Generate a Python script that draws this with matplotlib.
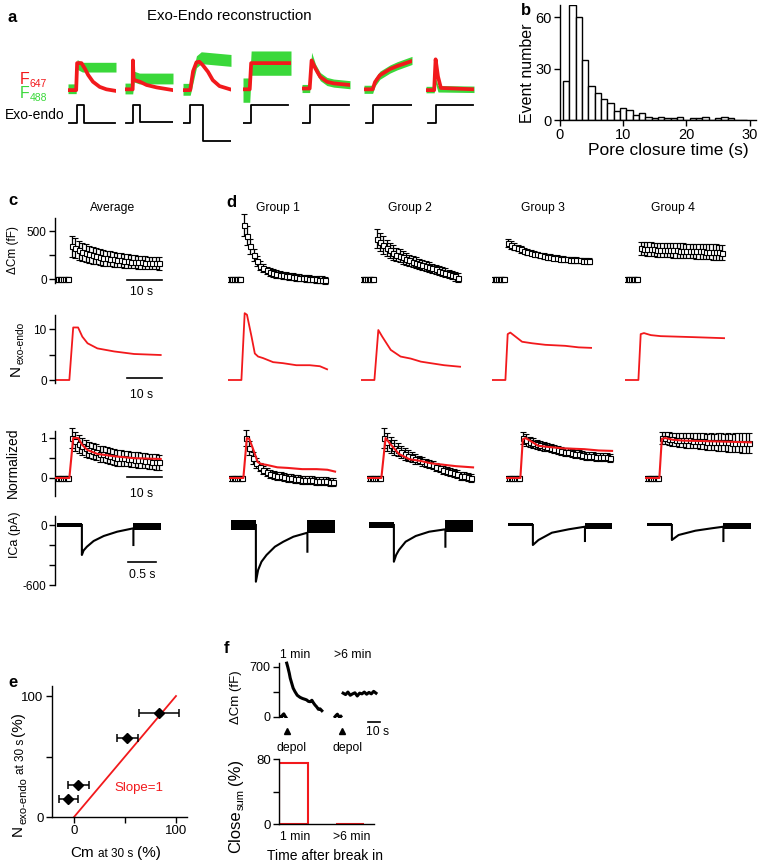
import numpy as np
import matplotlib
matplotlib.use("Agg")
import matplotlib.pyplot as plt

plt.rcParams['font.family'] = ['Liberation Sans', 'DejaVu Sans']
plt.rcParams['axes.linewidth'] = 1.0

RED = '#f2191c'
GREEN = '#3ad83a'

# ---------------- a: example traces (time 0-1, amplitude 0-1 per trace)
a_red_t = [
    [0, 0.17, 0.19, 0.28, 0.35, 0.42, 0.52, 0.66, 0.80, 1.0],
    [0, 0.16, 0.165, 0.18, 0.22, 0.31, 0.45, 0.66, 1.0],
    [0, 0.15, 0.21, 0.28, 0.34, 0.41, 0.52, 0.62, 0.76, 1.0],
    [0, 0.14, 0.17, 1.0],
    [0, 0.16, 0.20, 0.28, 0.38, 0.52, 0.66, 1.0],
    [0, 0.18, 0.23, 0.33, 0.54, 0.69, 1.0],
    [0, 0.17, 0.20, 0.25, 0.31, 1.0],
]
a_red_v = [
    [0, 0, 1.0, 1.0, 0.8, 0.56, 0.31, 0.12, 0.03, -0.03],
    [0.03, 0.03, 1.1, 0.4, 0.36, 0.31, 0.19, 0.10, 0.0],
    [0, 0, 0.7, 1.03, 1.05, 0.93, 0.68, 0.37, 0.15, 0.02],
    [0.03, 0.03, 1.0, 1.0],
    [0.06, 0.06, 1.1, 0.8, 0.49, 0.31, 0.25, 0.19],
    [0.03, 0.03, 0.3, 0.55, 0.78, 0.89, 1.08],
    [0, 0, 1.14, 0.5, 0.08, 0.03],
]
a_green_t = [
    [0, 0.17, 0.19, 0.30, 1.0],
    [0, 0.16, 0.19, 0.30, 1.0],
    [0, 0.15, 0.28, 0.38, 1.0],
    [0, 0.14, 0.17, 1.0],
    [0, 0.16, 0.20, 0.28, 0.38, 0.52, 0.66, 1.0],
    [0, 0.18, 0.23, 0.33, 0.54, 0.69, 1.0],
    [0, 0.17, 0.20, 0.25, 1.0],
]
a_green_v = [
    [0.05, 0.05, 0.95, 0.85, 0.85],
    [0.06, 0.06, 0.5, 0.43, 0.43],
    [0.03, 0.03, 1.05, 1.2, 1.1],
    [0, 0, 1.0, 1.0],
    [0.06, 0.06, 1.25, 0.82, 0.5, 0.32, 0.26, 0.2],
    [0.03, 0.03, 0.3, 0.55, 0.78, 0.9, 1.1],
    [0.02, 0.02, 0.35, 0.05, 0.03],
]
a_green_noise = [0.18, 0.2, 0.22, 0.45, 0.15, 0.15, 0.12]
a_step_t = [
    [0.02, 0.19, 0.19, 0.33, 0.33, 0.98],
    [0.02, 0.16, 0.16, 0.31, 0.31, 1.0],
    [0.01, 0.15, 0.15, 0.41, 0.41, 1.0],
    [0.01, 0.17, 0.17, 0.94],
    [0.01, 0.16, 0.16, 0.98],
    [0.04, 0.18, 0.18, 1.0],
    [0.04, 0.21, 0.21, 0.98],
]
a_step_v = [
    [0, 0, 1, 1, 0, 0],
    [0, 0, 1, 1, 0.05, 0.05],
    [0, 0, 1, 1, -1, -1],
    [0, 0, 1, 1],
    [0, 0, 1, 1],
    [0, 0, 1, 1],
    [0, 0, 1, 1],
]

# ---------------- b: histogram of pore closure time
b_time = [1, 2, 3, 4, 5, 6, 7, 8, 9, 10, 11, 12, 13, 14, 15,
          16, 17, 18, 19, 20, 21, 22, 23, 24, 25, 26, 27, 28, 29]
b_count = [23, 67, 60, 35, 20, 16, 12, 10, 5, 7, 6, 3, 4, 2, 1,
           2, 1, 1, 2, 0, 1, 1, 2, 0, 1, 2, 1, 0, 0]

# ---------------- c/d: average and groups
col_names = ['Average', 'Group 1', 'Group 2', 'Group 3', 'Group 4']
cm_t = [0.5, 1.5, 2.5, 3.5, 4.5, 5.5, 6.5, 7.5, 8.5, 9.5, 10.5, 11.5, 12.5,
        13.5, 14.5, 15.5, 16.5, 17.5, 18.5, 19.5, 20.5, 21.5, 22.5, 23.5, 24.5, 25.5]
base_t = [-4.0, -3.5, -3.0, -2.5, -2.0, -1.5, -1.0, -0.5]
base_cm = [0, 4, -3, 2, -4, 3, -1, 2]
base_cm_err = [14, 12, 15, 13, 12, 14, 13, 15]
base_norm = [0, 0.01, -0.01, 0.0, 0.01, -0.01, 0.0, 0.01]
base_norm_err = [0.03, 0.03, 0.03, 0.03, 0.03, 0.03, 0.03, 0.03]

cm_avg = [340, 320, 300, 285, 270, 258, 248, 238, 230, 222, 215, 210, 205,
          200, 195, 190, 186, 182, 178, 175, 172, 170, 168, 166, 164, 162]
cm_avg_err = [110, 105, 100, 95, 92, 90, 88, 86, 84, 82, 80, 78, 76,
              74, 72, 72, 70, 70, 68, 68, 66, 66, 65, 65, 64, 64]
cm_g1 = [560, 450, 340, 250, 185, 140, 110, 90, 75, 62, 52, 45, 38,
         32, 27, 22, 18, 14, 10, 6, 3, 0, -3, -6, -9, -12]
cm_g1_err = [115, 100, 80, 60, 50, 45, 42, 40, 40, 38, 38, 38, 37,
             37, 36, 36, 36, 36, 36, 36, 36, 36, 36, 36, 36, 36]
cm_g2 = [420, 385, 355, 325, 300, 275, 255, 240, 225, 210, 195, 182, 170,
         158, 146, 134, 122, 110, 100, 88, 76, 64, 52, 40, 28, 15]
cm_g2_err = [100, 95, 90, 85, 80, 75, 70, 68, 65, 62, 60, 58, 56,
             55, 54, 53, 52, 50, 50, 48, 48, 46, 46, 45, 45, 45]
cm_g3 = [372, 355, 338, 322, 308, 296, 285, 275, 265, 256, 248, 240, 234,
         228, 222, 217, 213, 209, 205, 202, 199, 196, 194, 192, 190, 188]
cm_g3_err = [40, 38, 36, 34, 32, 30, 30, 30, 28, 28, 28, 28, 28,
             28, 28, 28, 28, 28, 28, 28, 28, 28, 28, 28, 28, 28]
cm_g4 = [320, 315, 312, 310, 308, 306, 305, 303, 302, 300, 298, 297, 296,
         295, 293, 292, 290, 289, 288, 287, 285, 284, 282, 280, 278, 276]
cm_g4_err = [70, 70, 72, 72, 72, 72, 74, 74, 74, 74, 75, 75, 75,
             75, 76, 76, 76, 76, 78, 78, 78, 78, 80, 80, 80, 80]

n_t_avg = [-4.3, -0.2, 0.9, 2.3, 3.5, 5.0, 7.8, 12.6, 18.3, 25.9]
n_avg = [0, 0, 10.3, 10.3, 8.5, 7.2, 6.2, 5.6, 5.1, 4.9]
n_t_g1 = [-4.3, -0.2, 0.8, 1.5, 2.9, 3.9, 4.9, 6.4, 9.5, 12.5, 16.6, 20.7, 23.8, 26.0]
n_g1 = [0, 0, 13.1, 12.8, 8.5, 5.2, 4.6, 4.3, 3.5, 3.3, 2.9, 2.9, 2.7, 2.1]
n_t_g2 = [-4.3, -0.2, 1.0, 2.2, 4.8, 7.8, 10.9, 14.0, 17.0, 21.1, 26.0]
n_g2 = [0, 0, 9.8, 8.5, 5.9, 4.6, 4.2, 3.6, 3.3, 2.9, 2.6]
n_t_g3 = [-4.3, -0.2, 0.5, 1.3, 2.9, 4.9, 8.0, 12.0, 18.1, 22.2, 26.0]
n_g3 = [0, 0, 9.0, 9.3, 8.5, 7.5, 7.2, 6.9, 6.7, 6.4, 6.3]
n_t_g4 = [-4.3, -0.2, 0.5, 1.5, 3.6, 6.6, 11.7, 16.8, 26.0]
n_g4 = [0, 0, 9.0, 9.2, 8.8, 8.6, 8.5, 8.4, 8.2]

norm_avg = [1.0, 0.92, 0.85, 0.79, 0.74, 0.70, 0.67, 0.64, 0.61, 0.59, 0.57, 0.55, 0.53,
            0.51, 0.50, 0.49, 0.48, 0.47, 0.46, 0.45, 0.44, 0.43, 0.42, 0.41, 0.40, 0.39]
norm_avg_err = [0.25, 0.24, 0.23, 0.22, 0.21, 0.21, 0.2, 0.2, 0.2, 0.2, 0.2, 0.2, 0.2,
                0.2, 0.2, 0.19, 0.19, 0.19, 0.19, 0.19, 0.19, 0.19, 0.19, 0.19, 0.19, 0.19]
norm_g1 = [1.0, 0.75, 0.5, 0.38, 0.28, 0.20, 0.15, 0.11, 0.08, 0.06, 0.04, 0.02, 0.0,
           -0.01, -0.02, -0.03, -0.04, -0.05, -0.05, -0.06, -0.07, -0.07, -0.08, -0.08, -0.09, -0.09]
norm_g1_err = [0.2, 0.18, 0.14, 0.12, 0.1, 0.1, 0.1, 0.1, 0.1, 0.1, 0.1, 0.1, 0.1,
               0.1, 0.1, 0.1, 0.1, 0.1, 0.1, 0.1, 0.1, 0.1, 0.1, 0.1, 0.1, 0.1]
norm_g2 = [1.0, 0.9, 0.82, 0.76, 0.71, 0.66, 0.60, 0.56, 0.52, 0.48, 0.45, 0.42, 0.38,
           0.35, 0.32, 0.28, 0.25, 0.21, 0.18, 0.15, 0.12, 0.09, 0.06, 0.04, 0.02, 0.0]
norm_g2_err = [0.25, 0.22, 0.2, 0.18, 0.16, 0.15, 0.14, 0.13, 0.12, 0.12, 0.11, 0.11, 0.1,
               0.1, 0.1, 0.1, 0.1, 0.1, 0.1, 0.1, 0.1, 0.1, 0.1, 0.1, 0.1, 0.1]
norm_g3 = [1.0, 0.95, 0.9, 0.87, 0.84, 0.82, 0.79, 0.77, 0.74, 0.72, 0.70, 0.68, 0.66,
           0.64, 0.62, 0.60, 0.59, 0.58, 0.56, 0.55, 0.54, 0.53, 0.53, 0.52, 0.52, 0.51]
norm_g3_err = [0.15, 0.14, 0.13, 0.12, 0.12, 0.11, 0.11, 0.1, 0.1, 0.1, 0.1, 0.1, 0.1,
               0.1, 0.1, 0.1, 0.1, 0.1, 0.1, 0.1, 0.1, 0.1, 0.1, 0.1, 0.1, 0.1]
norm_g4 = [1.0, 0.99, 0.98, 0.97, 0.96, 0.95, 0.95, 0.94, 0.94, 0.93, 0.93, 0.92, 0.92,
           0.91, 0.91, 0.90, 0.90, 0.90, 0.89, 0.89, 0.88, 0.88, 0.88, 0.87, 0.87, 0.87]
norm_g4_err = [0.15, 0.15, 0.16, 0.16, 0.17, 0.17, 0.18, 0.18, 0.18, 0.19, 0.19, 0.2, 0.2,
               0.2, 0.21, 0.21, 0.22, 0.22, 0.22, 0.23, 0.23, 0.24, 0.24, 0.25, 0.25, 0.25]

# ICa: decay after depolarisation, tail spike; bands = (pre centre, pre half, post centre, post half)
ica_t_avg = [0, 0, 0.03, 0.09, 0.21, 0.39, 0.63, 0.92, 0.92]
ica_avg = [0, -300, -255, -217, -160, -110, -67, -33, -200]
ica_t_g1 = [0, 0, 0.04, 0.10, 0.19, 0.34, 0.49, 0.67, 0.92, 0.92]
ica_g1 = [0, -567, -450, -367, -300, -217, -167, -117, -77, -267]
ica_t_g2 = [0, 0, 0.04, 0.09, 0.21, 0.39, 0.63, 0.92, 0.92]
ica_g2 = [0, -367, -300, -250, -167, -110, -67, -43, -217]
ica_t_g3 = [0, 0, 0.10, 0.34, 0.64, 0.93, 0.93]
ica_g3 = [0, -200, -150, -77, -43, -17, -160]
ica_t_g4 = [0, 0, 0.12, 0.42, 0.71, 0.92, 0.92]
ica_g4 = [0, -150, -100, -57, -33, -17, -160]
ica_bands = [(-3, 20, -13, 37), (0, 50, -15, 65), (0, 33, -8, 58), (0, 15, -12, 28), (0, 15, -10, 33)]
ica_pre = [-0.45, 0.0]
ica_end = 1.41

# ---------------- e: scatter
e_cm = [-5.6, 4.2, 52.3, 83.6]
e_cm_err = [9.3, 10.0, 10.6, 19.6]
e_n = [14.6, 26.4, 65.5, 85.7]
e_slope_x = [0, 100]
e_slope_y = [0, 100]

# ---------------- f: example cells and close fraction
f1_base_t = [-6.5, -5.5, -4.5, -3.5, -2.5, -1.5, -0.5]
f1_base = [0, 5, -10, 25, 40, 10, -15]
f1_t = [0, 1, 2.2, 3, 4.3, 5.5, 7.1, 9, 11.4, 13.5, 15.7, 17, 18.5, 20, 21.5,
        22.8, 24.2, 25.5, 27.1, 28.5, 30]
f1 = [750, 690, 608, 540, 467, 400, 350, 300, 271, 255, 243, 235, 215, 210, 230,
      195, 163, 140, 103, 110, 84]
f2_base_t = [-6, -5, -4, -3, -2, -1]
f2_base = [0, 20, 35, 10, -10, 5]
f2_t = [0.9, 3, 5, 7, 9, 11, 13, 15, 17, 19, 21, 23, 25, 27, 29]
f2 = [330, 310, 345, 300, 320, 335, 290, 330, 320, 345, 315, 340, 320, 355, 330]
f_close_labels = ['1 min', '>6 min']
f_close = [76, 0.6]

# ---------------- layout helpers (pixel coords, origin top-left)
W, H = 762, 868
fig = plt.figure(figsize=(W / 100, H / 100), dpi=100)
renderer = fig.canvas.get_renderer()


def box(x0, y0, x1, y1):
    ax = fig.add_axes([x0 / W, 1 - y1 / H, (x1 - x0) / W, (y1 - y0) / H])
    ax.patch.set_visible(False)
    return ax


def txt(x, y, s, **kw):
    return fig.text(x / W, 1 - y / H, s, **kw)


def rich(x, y, parts, vertical=False):
    pos = y if vertical else x
    for s, size, shift, gap, color in parts:
        if vertical:
            t = txt(x + shift, pos, s, fontsize=size, color=color, rotation=90,
                    rotation_mode='anchor', ha='left', va='baseline')
            pos -= t.get_window_extent(renderer).height + gap
        else:
            t = txt(pos, y + shift, s, fontsize=size, color=color, ha='left', va='baseline')
            pos += t.get_window_extent(renderer).width + gap


def left_only(ax, bounds, ticks, labels, size):
    for s in ['top', 'right', 'bottom']:
        ax.spines[s].set_visible(False)
    ax.spines['left'].set_bounds(*bounds)
    ax.set_xticks([])
    ax.set_yticks(ticks)
    ax.set_yticklabels(labels)
    ax.tick_params(axis='y', direction='out', length=4, width=1, labelsize=size, pad=2)


# ---------------- panel a
txt(7, 22, 'a', fontsize=12, fontweight='bold')
txt(229, 20, 'Exo-Endo reconstruction', fontsize=10.8, ha='center')
rich(20, 84, [('F', 11.5, 0, 0, RED), ('647', 7.5, 3, 0, RED)])
rich(20, 98, [('F', 11.5, 0, 0, GREEN), ('488', 7.5, 3, 0, GREEN)])
txt(5, 119, 'Exo-endo', fontsize=10)
a_x0 = [68, 125, 183, 243, 302, 364, 426]
for i in range(7):
    ax = box(a_x0[i], 48, a_x0[i] + 48, 102)
    ax.set_xlim(0, 1)
    ax.set_ylim(-0.44, 1.56)
    ax.axis('off')
    gv = np.array(a_green_v[i])
    hw = a_green_noise[i]
    ax.fill_between(a_green_t[i], gv - hw, gv + hw, color=GREEN, lw=0)
    ax.plot(a_red_t[i], a_red_v[i], color=RED, lw=2.7, solid_joinstyle='round')
    sx = box(a_x0[i], 100, a_x0[i] + 48, 145)
    sx.set_xlim(0, 1)
    sx.set_ylim(-1.22, 1.28)
    sx.axis('off')
    sx.plot(a_step_t[i], a_step_v[i], color='black', lw=1.3)

# ---------------- panel b
txt(521, 15, 'b', fontsize=12, fontweight='bold')
ax = box(560, 5, 756, 120)
ax.bar(b_time, b_count, width=1, facecolor='white', edgecolor='black', lw=1)
ax.set_xlim(0, 31)
ax.set_ylim(0, 67)
ax.spines['top'].set_visible(False)
ax.spines['right'].set_visible(False)
ax.set_xticks([0, 10, 20, 30])
ax.set_yticks([0, 30, 60])
ax.tick_params(direction='out', length=4, width=1, labelsize=10.5, pad=2)
txt(527, 73, 'Event number', fontsize=11.5, rotation=90, ha='center', va='center')
txt(668, 151, 'Pore closure time (s)', fontsize=12.5, ha='center', va='center')

# ---------------- panels c and d
txt(8, 205, 'c', fontsize=12, fontweight='bold')
txt(226, 207, 'd', fontsize=12, fontweight='bold')

rows = {  # top px, bottom px, zero px, px per unit
    'cm': (210, 292, 279, 0.096),
    'n': (310, 392, 380, 5.1),
    'norm': (418, 505, 478, 40.0),
    'ica': (505, 595, 525, 0.1),
}
T0, TSPAN = -4.3, 32.0
left_top = [55, 228, 361, 492, 625]
pps_top = [3.5, 3.27, 3.27, 3.27, 3.27]
left_bot = [55, 229, 367, 506, 645]
title_x = [113, 278, 410, 543, 673]

cm_mean = [cm_avg, cm_g1, cm_g2, cm_g3, cm_g4]
cm_err = [cm_avg_err, cm_g1_err, cm_g2_err, cm_g3_err, cm_g4_err]
n_time = [n_t_avg, n_t_g1, n_t_g2, n_t_g3, n_t_g4]
n_val = [n_avg, n_g1, n_g2, n_g3, n_g4]
norm_mean = [norm_avg, norm_g1, norm_g2, norm_g3, norm_g4]
norm_err = [norm_avg_err, norm_g1_err, norm_g2_err, norm_g3_err, norm_g4_err]
ica_time = [ica_t_avg, ica_t_g1, ica_t_g2, ica_t_g3, ica_t_g4]
ica_val = [ica_avg, ica_g1, ica_g2, ica_g3, ica_g4]

pt_style = dict(fmt='s', ms=3.6, mfc='white', mec='black', mew=0.8, ecolor='black',
                elinewidth=0.9, capsize=2.2, capthick=0.9)


def trace_ax(left, pps, t0, span, row):
    top, bottom, zero, ppu = rows[row]
    ax = box(left, top, left + span * pps, bottom)
    ax.set_xlim(t0, t0 + span)
    ax.set_ylim((zero - bottom) / ppu, (zero - top) / ppu)
    return ax


axes_c = []
for i in range(5):
    txt(title_x[i], 211, col_names[i], fontsize=8.7, ha='center')
    a1 = trace_ax(left_top[i], pps_top[i], T0, TSPAN, 'cm')
    a1.errorbar(base_t, base_cm, yerr=base_cm_err, **pt_style)
    a1.errorbar(cm_t, cm_mean[i], yerr=cm_err[i], **pt_style)

    a2 = trace_ax(left_top[i], pps_top[i], T0, TSPAN, 'n')
    a2.plot(n_time[i], n_val[i], color=RED, lw=1.3)

    a3 = trace_ax(left_bot[i], 3.5, T0, TSPAN, 'norm')
    a3.errorbar(base_t, base_norm, yerr=base_norm_err, **pt_style)
    a3.errorbar(cm_t, norm_mean[i], yerr=norm_err[i], **pt_style)
    a3.plot(n_time[i], np.array(n_val[i]) / max(n_val[i]), color=RED, lw=1.5, zorder=5)

    a4 = trace_ax(left_bot[i], 56, -0.48, 2.0, 'ica')
    pc, ph, qc, qh = ica_bands[i]
    a4.fill_between(ica_pre, [pc - ph] * 2, [pc + ph] * 2, color='black', lw=0)
    a4.fill_between([ica_time[i][-1], ica_end], [qc - qh] * 2, [qc + qh] * 2, color='black', lw=0)
    a4.plot(ica_time[i], ica_val[i], color='black', lw=1.5)

    if i == 0:
        axes_c = [a1, a2, a3, a4]
    else:
        for a in (a1, a2, a3, a4):
            a.axis('off')

a1, a2, a3, a4 = axes_c
left_only(a1, (-42, 635), [0, 250, 500], ['0', '', '500'], 8.5)
left_only(a2, (-0.5, 12.7), [0, 5, 10], ['0', '', '10'], 8.5)
left_only(a3, (-0.45, 1.18), [0, 0.5, 1], ['0', '', '1'], 8.5)
left_only(a4, (-600, 90), [0, -200, -400, -600], ['0', '', '', '-600'], 8.5)

# scale bars
a1.plot([16.3, 26.3], [-10, -10], color='black', lw=1.2, clip_on=False)
txt(142, 295, '10 s', fontsize=8.8, ha='center')
a2.plot([16.3, 26.3], [0.4, 0.4], color='black', lw=1.2, clip_on=False)
txt(142, 398, '10 s', fontsize=8.8, ha='center')
a3.plot([16.3, 26.3], [0.03, 0.03], color='black', lw=1.2, clip_on=False)
txt(142, 497, '10 s', fontsize=8.8, ha='center')
a4.plot([0.82, 1.32], [-367, -367], color='black', lw=1.2, clip_on=False)
txt(142, 578, '0.5 s', fontsize=8.8, ha='center')

txt(13, 250, 'ΔCm (fF)', fontsize=8.5, rotation=90, ha='center', va='center')
rich(20, 376, [('N', 11, 0, 1, 'black'), ('exo-endo', 7.3, 3.5, 0, 'black')], vertical=True)
txt(13, 463, 'Normalized', fontsize=10, rotation=90, ha='center', va='center')
txt(15, 535, 'ICa (pA)', fontsize=9, rotation=90, ha='center', va='center')

# ---------------- panel e
txt(8, 687, 'e', fontsize=12, fontweight='bold')
ax = box(52, 686, 187, 817)
ax.set_xlim(-21.6, 110.8)
ax.set_ylim(0, 108.3)
ax.plot(e_slope_x, e_slope_y, color=RED, lw=1.3)
ax.errorbar(e_cm, e_n, xerr=e_cm_err, fmt='D', color='black', ms=5, capsize=3,
            elinewidth=1.1, capthick=1.1, zorder=4)
ax.text(63.7, 24, 'Slope=1', color=RED, fontsize=9.5, ha='center', va='center')
ax.spines['top'].set_visible(False)
ax.spines['right'].set_visible(False)
ax.set_xticks([0, 50, 100])
ax.set_xticklabels(['0', '', '100'])
ax.set_yticks([0, 50, 100])
ax.set_yticklabels(['0', '', '100'])
ax.tick_params(direction='out', length=4, width=1, labelsize=9.5, pad=2)
rich(70, 857, [('Cm', 11, 0, 4, 'black'), ('at 30 s', 8.5, 0, 4, 'black'),
               ('(%)', 11, 0, 0, 'black')])
rich(22, 836, [('N', 11, 0, 1, 'black'), ('exo-endo', 8, 4.5, 3, 'black'),
               ('at 30 s', 8.5, 2, 3, 'black'), ('(%)', 11, 0, 0, 'black')], vertical=True)

# ---------------- panel f
txt(224, 653, 'f', fontsize=12, fontweight='bold')
txt(295, 658, '1 min', fontsize=8.8, ha='center')
txt(353, 658, '>6 min', fontsize=8.8, ha='center')
fx = box(279, 660, 385, 718)
f_zero, f_ppu, f_pps = 716.7, 0.0714, 1.17
fx.set_ylim((f_zero - 718) / f_ppu, (f_zero - 660) / f_ppu)
fx.set_xlim(-6.6, -6.6 + 106 / f_pps)
f2_offset = 47.3
fx.plot(f1_base_t, f1_base, color='black', lw=2.2)
fx.plot(f1_t, f1, color='black', lw=2.2)
fx.plot(np.array(f2_base_t) + f2_offset, f2_base, color='black', lw=2.2)
fx.plot(np.array(f2_t) + f2_offset, f2, color='black', lw=2.2)
left_only(fx, (-10, 748), [0, 350, 700], ['0', '', '700'], 9)
fx.plot([0, f2_offset], [-196, -196], '^', color='black', ms=4.5, clip_on=False)
fx.plot([69.7, 79.7], [-71, -71], color='black', lw=1.2, clip_on=False)
txt(378, 735, '10 s', fontsize=8.8, ha='center')
txt(291.7, 751, 'depol', fontsize=8.8, ha='center')
txt(347.3, 751, 'depol', fontsize=8.8, ha='center')
txt(236, 697, 'ΔCm (fF)', fontsize=9.5, rotation=90, ha='center', va='center')

bx = box(279.3, 757, 374, 824.3)
bx.bar([0.5, 2.5], f_close, width=1, fill=False, edgecolor=RED, lw=1.5)
bx.set_xlim(0, 3.35)
bx.set_ylim(0, 82.8)
bx.spines['top'].set_visible(False)
bx.spines['right'].set_visible(False)
bx.spines['left'].set_bounds(0, 80)
bx.set_yticks([0, 40, 80])
bx.set_yticklabels(['0', '', '80'])
bx.set_xticks([0.55, 2.56])
bx.set_xticklabels(f_close_labels)
bx.tick_params(axis='y', direction='out', length=4, width=1, labelsize=9.5, pad=2)
bx.tick_params(axis='x', length=0, labelsize=8.8, pad=5)
txt(325, 860, 'Time after break in', fontsize=10, ha='center')
rich(240, 853, [('Close', 12, 0, 0, 'black'), ('sum', 8, 4, 4, 'black'),
                ('(%)', 12, 0, 0, 'black')], vertical=True)

fig.savefig('out.png', dpi=100)
